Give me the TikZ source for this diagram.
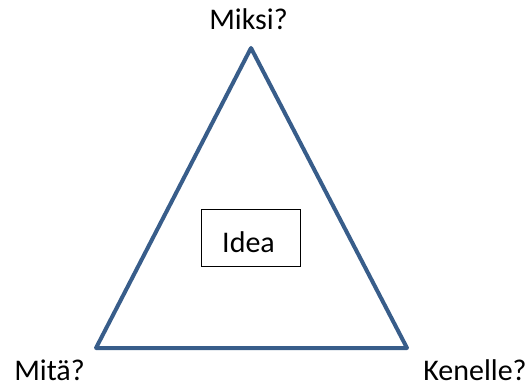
\documentclass[tikz,border=0pt]{standalone}
\usepackage{fontspec}
\setmainfont{Carlito}
\definecolor{tri}{HTML}{385D8A}
\begin{document}
\begin{tikzpicture}[x=1pt,y=-1pt,
  lbl/.style={anchor=base,inner sep=0pt,font=\fontsize{30}{34}\selectfont},
  ideabox/.style={draw=black,line width=1pt,minimum width=99pt,minimum height=56pt,inner sep=0pt}]
\useasboundingbox (0,0) rectangle (532,387);
\coordinate (top) at (251,48);
\coordinate (bl) at (96,348);
\coordinate (br) at (407,348);
\draw[tri,line width=4pt,line join=round] (top) -- (bl) -- (br) -- cycle;
\node[ideabox] (idea) at (250.5,238) {};
\node[lbl] (ideatxt) at (248.5,252) {Idea};
\node[lbl] (miksi) at (248.5,30) {Miksi?};
\node[lbl] (mita) at (49.5,380) {Mitä?};
\node[lbl] (kenelle) at (475,380) {Kenelle?};
\end{tikzpicture}
\end{document}
